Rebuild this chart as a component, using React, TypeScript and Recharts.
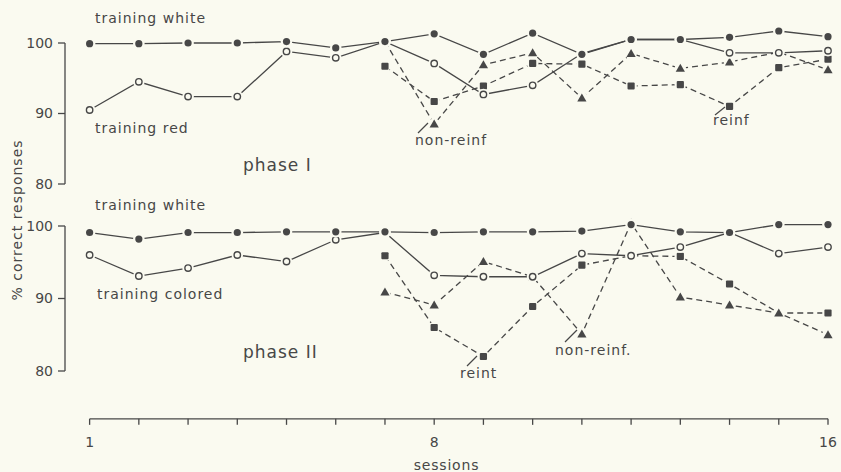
import { Line, LineChart, ReferenceLine, XAxis, YAxis } from "recharts"

// sessions on the x axis
const sessions = [1, 2, 3, 4, 5, 6, 7, 8, 9, 10, 11, 12, 13, 14, 15, 16]
const xTickLabels = [1, 8, 16]
const yTicks = [80, 90, 100]

// phase I
const p1White = [99.9, 99.9, 100, 100, 100.2, 99.3, 100.2, 101.3, 98.4, 101.4, 98.4, 100.5, 100.5, 100.8, 101.7, 100.9]
const p1Red = [90.5, 94.5, 92.4, 92.4, 98.8, 97.9, 100.2, 97.1, 92.7, 94.0, 98.5, 100.5, 100.5, 98.6, 98.6, 98.9]
const p1Reinf = [null, null, null, null, null, null, 96.7, 91.7, 93.9, 97.1, 97.0, 93.9, 94.1, 91.0, 96.5, 97.7]
const p1NonReinf = [null, null, null, null, null, null, 100.2, 88.5, 96.9, 98.6, 92.2, 98.5, 96.4, 97.3, 98.7, 96.2]

// phase II
const p2White = [99.1, 98.2, 99.1, 99.1, 99.2, 99.2, 99.2, 99.1, 99.2, 99.2, 99.3, 100.2, 99.2, 99.1, 100.2, 100.2]
const p2Colored = [96, 93.1, 94.2, 96, 95.1, 98.1, 99.1, 93.2, 93, 93, 96.2, 95.9, 97.1, 99.1, 96.2, 97.1]
const p2Reinf = [null, null, null, null, null, null, 95.9, 86, 82, 88.9, 94.6, 95.9, 95.8, 92, 88, 88]
const p2NonReinf = [null, null, null, null, null, null, 90.9, 89.1, 95.1, 93, 85.1, 100.4, 90.2, 89.1, 88, 85]

const W = 841
const H = 472
const ink = "#474747"
const paper = "#fafaf0"
const font = "'DejaVu Sans', sans-serif"

const rows = (white: number[], train: number[], reinf: (number | null)[], nonReinf: (number | null)[]) =>
  sessions.map((s, i) => ({ session: s, white: white[i], train: train[i], reinf: reinf[i], nonReinf: nonReinf[i] }))

const phase1 = rows(p1White, p1Red, p1Reinf, p1NonReinf)
const phase2 = rows(p2White, p2Colored, p2Reinf, p2NonReinf)

type Shape = "disc" | "ring" | "tri" | "square"

// markers sit on a paper-coloured patch so the lines stop short of them
const marker = (shape: Shape) => (p: any) => {
  const { cx, cy, index } = p
  if (cx == null || cy == null) return <g key={index} />
  let mark
  if (shape === "disc") mark = <circle cx={cx} cy={cy} r={3.6} fill={ink} />
  else if (shape === "ring") mark = <circle cx={cx} cy={cy} r={3.2} fill={paper} stroke={ink} strokeWidth={1.4} />
  else if (shape === "tri")
    mark = <polygon points={`${cx},${cy - 4.6} ${cx - 4.6},${cy + 3.4} ${cx + 4.6},${cy + 3.4}`} fill={ink} />
  else mark = <rect x={cx - 3.6} y={cy - 3.6} width={7.2} height={7.2} rx={1} fill={ink} />
  return (
    <g key={index}>
      <circle cx={cx} cy={cy} r={5.8} fill={paper} />
      {mark}
    </g>
  )
}

function panelSeries() {
  return [
    <Line key="r" dataKey="reinf" stroke={ink} strokeWidth={1.3} strokeDasharray="6 4" dot={marker("square")} isAnimationActive={false} />,
    <Line key="n" dataKey="nonReinf" stroke={ink} strokeWidth={1.3} strokeDasharray="6 4" dot={marker("tri")} isAnimationActive={false} />,
    <Line key="t" dataKey="train" stroke={ink} strokeWidth={1.3} dot={marker("ring")} isAnimationActive={false} />,
    <Line key="w" dataKey="white" stroke={ink} strokeWidth={1.3} dot={marker("disc")} isAnimationActive={false} />,
  ]
}

const yAxisProps = {
  ticks: yTicks,
  width: 65,
  axisLine: false,
  tickLine: { stroke: ink, strokeWidth: 1.3 },
  tickSize: 7,
  tickMargin: 5,
  tick: { fill: ink, fontSize: 14 },
}

export default function App() {
  return (
    <div style={{ position: "absolute", left: 0, top: 0, width: W, height: H, background: paper, fontFamily: font, overflow: "hidden" }}>
      {/* phase I */}
      <div style={{ position: "absolute", left: 0, top: 0 }}>
        <LineChart width={W} height={H} data={phase1} margin={{ top: 21.85, right: 13, bottom: 273.9, left: 0 }}>
          <XAxis type="number" dataKey="session" domain={[0.5, 16]} hide />
          <YAxis {...(yAxisProps as any)} domain={[78, 103]} />
          <ReferenceLine segment={[{ x: 0.5, y: 80 }, { x: 0.5, y: 100 }]} stroke={ink} strokeWidth={1.3} />
          {panelSeries()}
        </LineChart>
      </div>
      {/* phase II, carries the sessions axis */}
      <div style={{ position: "absolute", left: 0, top: 0 }}>
        <LineChart width={W} height={H} data={phase2} margin={{ top: 211.5, right: 13, bottom: 0, left: 0 }}>
          <XAxis
            type="number"
            dataKey="session"
            domain={[0.5, 16]}
            ticks={sessions}
            interval={0}
            height={53.15}
            axisLine={false}
            tickLine={{ stroke: ink, strokeWidth: 1.3 }}
            tickSize={6}
            tickMargin={12}
            tick={{ fill: ink, fontSize: 14 }}
            tickFormatter={(v: number) => (xTickLabels.includes(v) ? String(v) : "")}
            label={{ value: "sessions", position: "insideBottom", offset: 2, fill: ink, fontSize: 14, letterSpacing: 0.8 }}
          />
          <YAxis {...(yAxisProps as any)} domain={[73.4, 102]} />
          <ReferenceLine segment={[{ x: 0.5, y: 80 }, { x: 0.5, y: 100 }]} stroke={ink} strokeWidth={1.3} />
          <ReferenceLine segment={[{ x: 1, y: 73.4 }, { x: 16, y: 73.4 }]} stroke={ink} strokeWidth={1.3} />
          {panelSeries()}
        </LineChart>
      </div>
      {/* annotations */}
      <svg width={W} height={H} style={{ position: "absolute", left: 0, top: 0, pointerEvents: "none" }}>
        <g fill={ink} fontSize={14} dominantBaseline="central" letterSpacing={1}>
          <text x={95} y={18}>training white</text>
          <text x={95} y={128}>training red</text>
          <text x={243} y={165} fontSize={17}>phase I</text>
          <text x={415} y={140}>non-reinf</text>
          <text x={713} y={120}>reinf</text>
          <text x={95} y={205}>training white</text>
          <text x={97} y={294}>training colored</text>
          <text x={243} y={352} fontSize={17}>phase II</text>
          <text x={460} y={373}>reint</text>
          <text x={555} y={350}>non-reinf.</text>
          <text transform="translate(17 220) rotate(-90)" textAnchor="middle">% correct responses</text>
        </g>
        <g stroke={ink} strokeWidth={1.2}>
          <line x1={418} y1={133} x2={428} y2={123} />
          <line x1={715} y1={115} x2={725} y2={107} />
          <line x1={467} y1={366} x2={477} y2={356} />
          <line x1={565} y1={342} x2={577} y2={330} />
        </g>
      </svg>
    </div>
  )
}
